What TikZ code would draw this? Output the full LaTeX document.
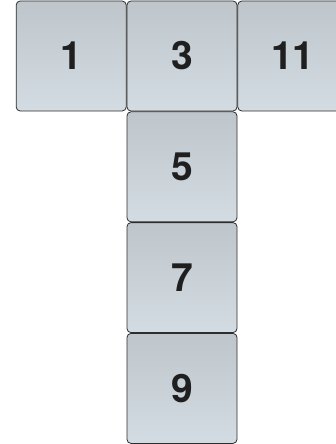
\documentclass[tikz,border=0pt]{standalone}
\usepackage{fontspec}
\setmainfont{TeX Gyre Heros}
\usetikzlibrary{positioning}
\definecolor{celltop}{RGB}{190,198,204}
\definecolor{cellbot}{RGB}{211,220,226}
\definecolor{cellline}{RGB}{45,45,45}
\begin{document}
\begin{tikzpicture}[x=1pt, y=-1pt,
    node distance=0pt and 0pt,
    cell/.style={draw=cellline, line width=0.8pt, rounded corners=4pt,
                 top color=celltop, bottom color=cellbot,
                 minimum width=110pt, minimum height=110pt, inner sep=0pt,
                 font=\fontsize{39}{39}\selectfont\bfseries, text=black!88},
  ]
    \useasboundingbox (0,0) rectangle (336,444);
    \clip (0,0) rectangle (336,444);
    \node[cell] (c3) at (182,56) {3};
    \node[cell, left=of c3]  (c1)  {1};
    \node[cell, right=of c3] (c11) {11};
    \node[cell, below=of c3] (c5)  {5};
    \node[cell, below=of c5] (c7)  {7};
    \node[cell, below=of c7] (c9)  {9};
  \end{tikzpicture}
\end{document}
